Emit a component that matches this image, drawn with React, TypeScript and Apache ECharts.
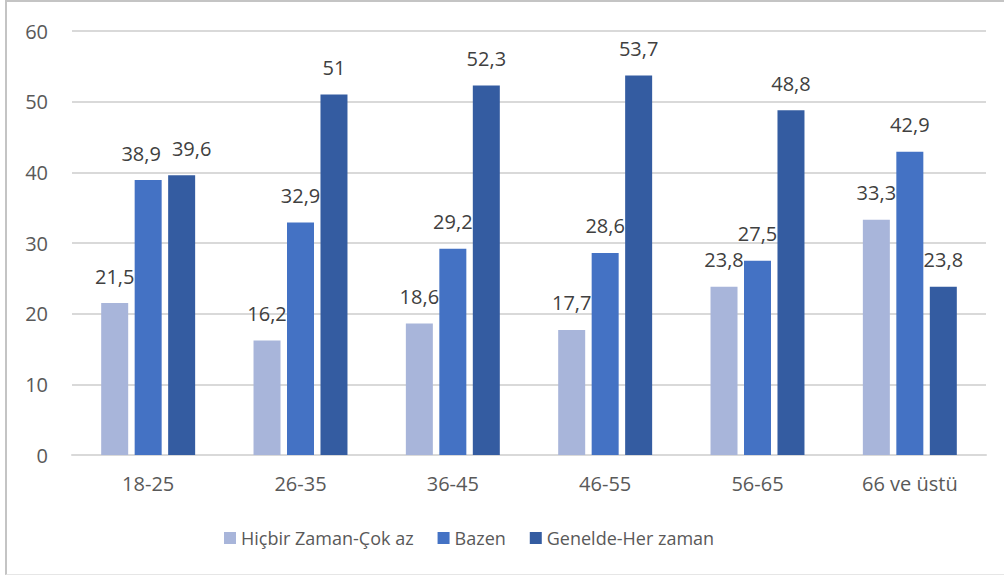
import React, { useEffect, useRef } from "react";
import * as echarts from "echarts";

const categories = ["18-25", "26-35", "36-45", "46-55", "56-65", "66 ve üstü"];
const seriesNames = ["Hiçbir Zaman-Çok az", "Bazen", "Genelde-Her zaman"];
const hicbir = [21.5, 16.2, 18.6, 17.7, 23.8, 33.3];
const bazen = [38.9, 32.9, 29.2, 28.6, 27.5, 42.9];
const genelde = [39.6, 51, 52.3, 53.7, 48.8, 23.8];
const colors = ["#a8b5da", "#4472c4", "#345ca1"];

const FONT = "'Open Sans', 'Noto Sans', sans-serif";

export default function App() {
  const ref = useRef<HTMLDivElement>(null);
  useEffect(() => {
    if (!ref.current) return;
    const chart = echarts.init(ref.current, undefined, { renderer: "svg" });
    const mk = (name: string, data: number[], color: string, firstShift: number) => ({
      name,
      type: "bar",
      data: data.map((v, i) =>
        i === 0 && firstShift !== 0 ? { value: v, label: { offset: [firstShift, 0] } } : v
      ),
      barWidth: 27,
      barGap: "24%",
      itemStyle: { color },
      label: {
        show: true,
        position: "top",
        distance: 17,
        color: "#404040",
        fontSize: 20,
        fontFamily: FONT,
        formatter: (p: any) => String(p.value).replace(".", ","),
      },
    });
    chart.setOption({
      animation: false,
      textStyle: { fontFamily: FONT },
      grid: { left: 72, right: 18, top: 31, bottom: 122, containLabel: false },
      legend: {
        left: 219,
        top: 524,
        itemWidth: 12,
        itemHeight: 12,
        itemGap: 24,
        icon: "rect",
        textStyle: { color: "#595959", fontSize: 18, fontFamily: FONT },
        data: seriesNames,
      },
      xAxis: {
        type: "category",
        data: categories,
        axisLine: { lineStyle: { color: "#d9d9d9", width: 2 } },
        axisTick: { show: false },
        axisLabel: { color: "#595959", fontSize: 20, margin: 18, fontFamily: FONT },
      },
      yAxis: {
        type: "value",
        min: 0,
        max: 60,
        interval: 10,
        axisLine: { show: false },
        axisTick: { show: false },
        splitLine: { lineStyle: { color: "#d9d9d9", width: 2 } },
        axisLabel: { color: "#595959", fontSize: 20, margin: 24, fontFamily: FONT },
      },
      series: [
        mk(seriesNames[0], hicbir, colors[0], 0),
        mk(seriesNames[1], bazen, colors[1], -7),
        mk(seriesNames[2], genelde, colors[2], 10),
      ],
    });
    return () => chart.dispose();
  }, []);
  return (
    <div style={{ position: "fixed", left: 0, top: 0, width: 1004, height: 577, background: "#fff" }}>
      <div ref={ref} style={{ position: "absolute", left: 0, top: 0, width: 1004, height: 577 }} />
      <div
        style={{
          position: "absolute",
          left: 5,
          top: 0,
          width: 999,
          height: 575,
          borderLeft: "2px solid #c4c4c4",
          borderTop: "2px solid #c4c4c4",
          borderBottom: "1px solid #e6e6e6",
          pointerEvents: "none",
          boxSizing: "border-box",
        }}
      />
    </div>
  );
}
